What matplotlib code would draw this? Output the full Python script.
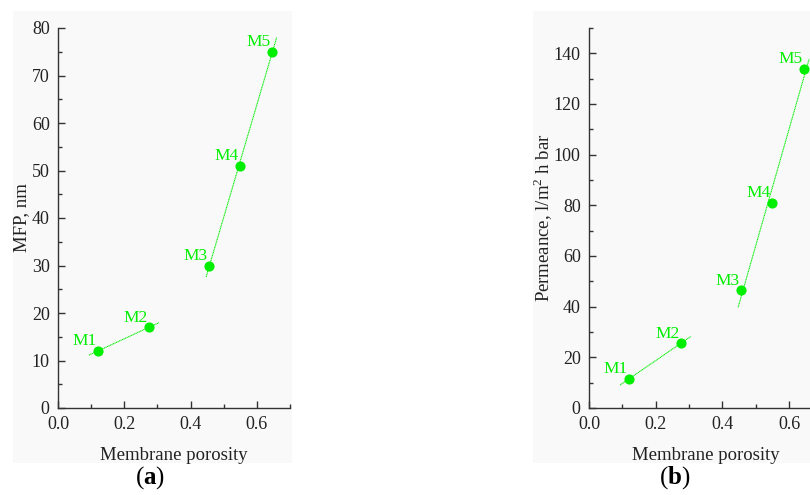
import numpy as np
import matplotlib
matplotlib.use("Agg")
import matplotlib.pyplot as plt
from matplotlib.patches import Rectangle
from matplotlib.ticker import MultipleLocator

plt.rcParams['font.family'] = ['Liberation Serif', 'DejaVu Serif']
plt.rcParams['mathtext.fontset'] = 'custom'
plt.rcParams['mathtext.rm'] = 'Liberation Serif'
plt.rcParams['mathtext.bf'] = 'Liberation Serif:bold'

labels = ['M1', 'M2', 'M3', 'M4', 'M5']
porosity = [0.12, 0.275, 0.455, 0.55, 0.645]
mfp = [12, 17, 30, 51, 75]
permeance = [11.5, 25.5, 46.5, 81, 134]

# fit segment ranges (x extent of the dotted trend lines)
fit_groups = [(0, 2), (2, 5)]
fit_ranges = [(0.093, 0.305), (0.447, 0.66)]

GREEN = '#00ee00'
SPINE = '#333333'
BG = '#f9f9f9'

fig = plt.figure(figsize=(8.1, 4.95), dpi=100)
W, H = 810, 495

# gray panel backgrounds
fig.patches.append(Rectangle((13 / W, 1 - 463 / H), (292 - 13) / W, (463 - 11) / H,
                             transform=fig.transFigure, facecolor=BG, edgecolor='none', zorder=-10))
fig.patches.append(Rectangle((533 / W, 1 - 463 / H), (812 - 533) / W, (463 - 11) / H,
                             transform=fig.transFigure, facecolor=BG, edgecolor='none', zorder=-10))

ax1 = fig.add_axes([58 / W, 1 - 408 / H, 232 / W, 380 / H])
ax2 = fig.add_axes([589 / W, 1 - 408 / H, 233.5 / W, 380 / H])

def style(ax, ymax, ymaj, ymin, ylabel, ylpad):
    ax.set_facecolor('none')
    ax.set_xlim(0, 0.7)
    ax.set_ylim(0, ymax)
    for s in ['top', 'right']:
        ax.spines[s].set_visible(False)
    for s in ['left', 'bottom']:
        ax.spines[s].set_color(SPINE)
        ax.spines[s].set_linewidth(1.0)
    ax.xaxis.set_major_locator(MultipleLocator(0.2))
    ax.xaxis.set_minor_locator(MultipleLocator(0.1))
    ax.yaxis.set_major_locator(MultipleLocator(ymaj))
    ax.yaxis.set_minor_locator(MultipleLocator(ymin))
    ax.tick_params(which='major', direction='in', length=5, width=1, color=SPINE,
                   labelsize=13, labelcolor='#222222', pad=6)
    ax.tick_params(which='minor', direction='in', length=3, width=1, color=SPINE)
    ax.xaxis.set_major_formatter(matplotlib.ticker.FormatStrFormatter('%.1f'))
    ax.set_xlabel('Membrane porosity', fontsize=13.5, color='#222222', labelpad=10)
    ax.set_ylabel(ylabel, fontsize=13.5, color='#222222', labelpad=ylpad)

def draw(ax, y):
    x = np.array(porosity)
    y = np.array(y)
    for (a, b), (x0, x1) in zip(fit_groups, fit_ranges):
        k, c = np.polyfit(x[a:b], y[a:b], 1)
        xs = np.array([x0, x1])
        ax.plot(xs, k * xs + c, linestyle=(0, (1, 0.5)), color=GREEN, lw=0.8,
                clip_on=False, zorder=2)
    ax.plot(x, y, 'o', color=GREEN, ms=6.3, zorder=3, clip_on=False)
    for lab, xi, yi in zip(labels, x, y):
        ax.annotate(lab, (xi, yi), xytext=(-1, 4), textcoords='offset points',
                    ha='right', va='baseline', color=GREEN, fontsize=12.5)

style(ax1, 80, 10, 5, 'MFP, nm', 1)
draw(ax1, mfp)
style(ax2, 150, 20, 10, 'Permeance, l/m$^2$ h bar', -1)
draw(ax2, permeance)

fig.text(150 / W, 1 - 478 / H, r'($\mathbf{a}$)', ha='center', va='center', fontsize=18, color='black')
fig.text(675 / W, 1 - 478 / H, r'($\mathbf{b}$)', ha='center', va='center', fontsize=18, color='black')

fig.savefig('out.png', dpi=100)
